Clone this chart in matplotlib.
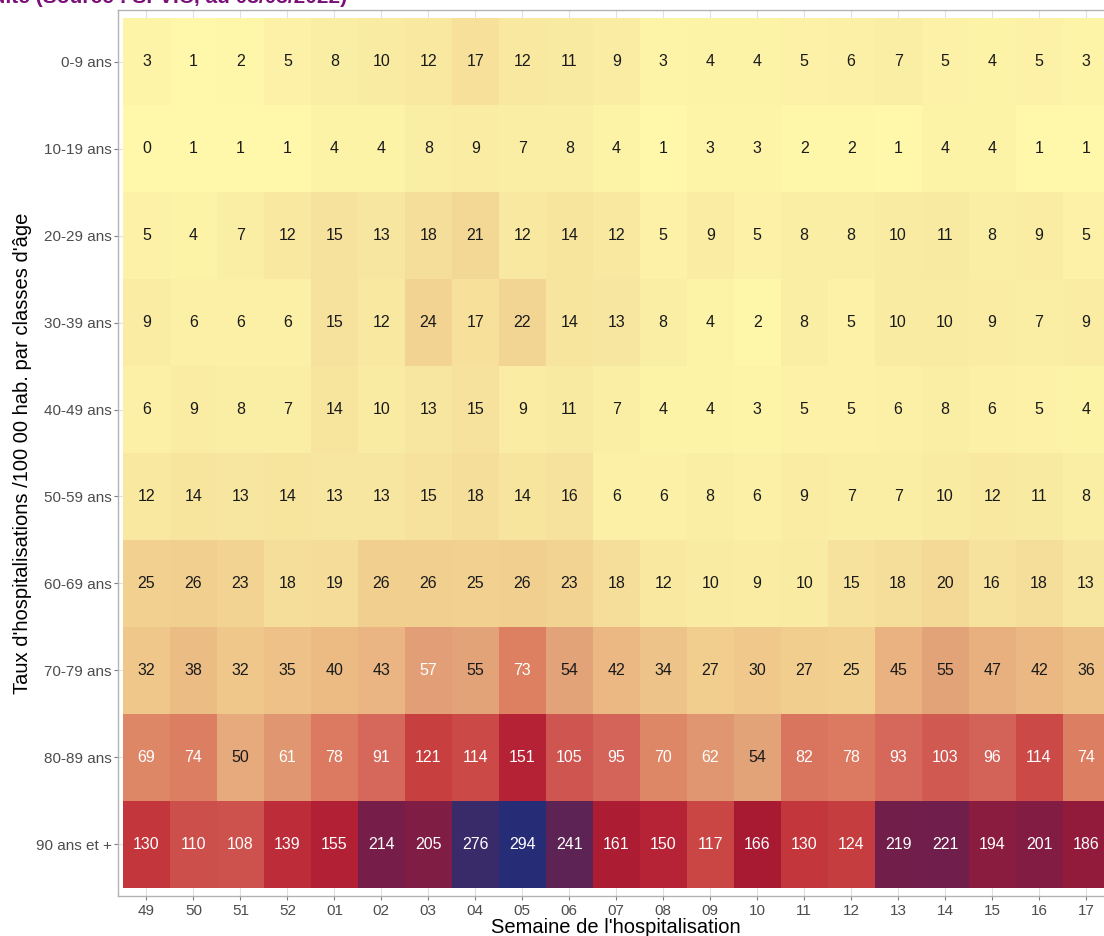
import matplotlib
matplotlib.use("Agg")
import matplotlib.pyplot as plt
import numpy as np
from matplotlib.colors import LinearSegmentedColormap

plt.rcParams["font.family"] = ["Liberation Sans", "DejaVu Sans"]

# données
semaines = ["49", "50", "51", "52", "01", "02", "03", "04", "05", "06", "07",
            "08", "09", "10", "11", "12", "13", "14", "15", "16", "17"]
classes = ["0-9 ans", "10-19 ans", "20-29 ans", "30-39 ans", "40-49 ans",
           "50-59 ans", "60-69 ans", "70-79 ans", "80-89 ans", "90 ans et +"]

age_0_9 = [3, 1, 2, 5, 8, 10, 12, 17, 12, 11, 9, 3, 4, 4, 5, 6, 7, 5, 4, 5, 3]
age_10_19 = [0, 1, 1, 1, 4, 4, 8, 9, 7, 8, 4, 1, 3, 3, 2, 2, 1, 4, 4, 1, 1]
age_20_29 = [5, 4, 7, 12, 15, 13, 18, 21, 12, 14, 12, 5, 9, 5, 8, 8, 10, 11, 8, 9, 5]
age_30_39 = [9, 6, 6, 6, 15, 12, 24, 17, 22, 14, 13, 8, 4, 2, 8, 5, 10, 10, 9, 7, 9]
age_40_49 = [6, 9, 8, 7, 14, 10, 13, 15, 9, 11, 7, 4, 4, 3, 5, 5, 6, 8, 6, 5, 4]
age_50_59 = [12, 14, 13, 14, 13, 13, 15, 18, 14, 16, 6, 6, 8, 6, 9, 7, 7, 10, 12, 11, 8]
age_60_69 = [25, 26, 23, 18, 19, 26, 26, 25, 26, 23, 18, 12, 10, 9, 10, 15, 18, 20, 16, 18, 13]
age_70_79 = [32, 38, 32, 35, 40, 43, 57, 55, 73, 54, 42, 34, 27, 30, 27, 25, 45, 55, 47, 42, 36]
age_80_89 = [69, 74, 50, 61, 78, 91, 121, 114, 151, 105, 95, 70, 62, 54, 82, 78, 93, 103, 96, 114, 74]
age_90 = [130, 110, 108, 139, 155, 214, 205, 276, 294, 241, 161, 150, 117, 166, 130, 124, 219, 221, 194, 201, 186]

taux = np.array([age_0_9, age_10_19, age_20_29, age_30_39, age_40_49,
                 age_50_59, age_60_69, age_70_79, age_80_89, age_90])

# palette jaune -> rouge -> violet -> bleu
vmax = 294
ancres = [(0, "#FFF8AA"), (12, "#F8E8A0"), (25, "#F2D090"), (40, "#ECBA84"),
          (55, "#E3A279"), (73, "#DD8062"), (95, "#D4645A"), (121, "#C84040"),
          (151, "#B62236"), (166, "#A81A32"), (190, "#8E1C3E"), (215, "#761E4A"),
          (241, "#5E2456"), (276, "#3A2A6A"), (294, "#272C76")]
cmap = LinearSegmentedColormap.from_list("hosp", [(v / vmax, c) for v, c in ancres])

fig = plt.figure(figsize=(11.04, 9.36), dpi=100)
ax = fig.add_axes([118 / 1104, 1 - 896 / 936, 996.5 / 1104, 886 / 936])

nx, ny = len(semaines), len(classes)
ex, ey = 0.106, 0.092
ax.set_xlim(-0.5 - ex, nx - 0.5 + ex)
ax.set_ylim(ny - 0.5 + ey, -0.5 - ey)

# grille (sous les tuiles)
for i in range(nx):
    ax.axvline(i, color="#E0E0E0", lw=0.8, zorder=0)
for j in range(ny):
    ax.axhline(j, color="#E0E0E0", lw=0.8, zorder=0)

ax.imshow(taux, cmap=cmap, vmin=0, vmax=vmax, aspect="auto",
          extent=(-0.5, nx - 0.5, ny - 0.5, -0.5), zorder=1, interpolation="nearest")

for j in range(ny):
    for i in range(nx):
        v = taux[j, i]
        coul = "white" if v > 55 else "#1A1A1A"
        ax.text(i, j, str(v), ha="center", va="center", fontsize=11.5, color=coul, zorder=2)

ax.set_xticks(range(nx))
ax.set_xticklabels(semaines)
ax.set_yticks(range(ny))
ax.set_yticklabels(classes)
ax.tick_params(axis="both", colors="#7F7F7F", labelcolor="#4D4D4D", labelsize=11, length=3, width=0.8, pad=1.5)
ax.tick_params(axis="x", pad=3)
for s in ax.spines.values():
    s.set_color("#B3B3B3")
    s.set_linewidth(1.0)

ax.set_xlabel("Semaine de l'hospitalisation", fontsize=14.5, labelpad=0)
ax.set_ylabel("Taux d'hospitalisations /100 00 hab. par classes d'âge", fontsize=14.5, labelpad=3)

# titre (coupé en haut de l'image)
fig.text(347 / 1104, 1 - 3 / 936,
         "Hospitalisations hebdomadaires par classes d'âge, vague Omicron et suite (Source : SI-VIC, au 03/05/2022)",
         ha="right", va="baseline", fontsize=15, fontweight="bold", color="#7A0F7A")

plt.savefig("out.png", dpi=100)
